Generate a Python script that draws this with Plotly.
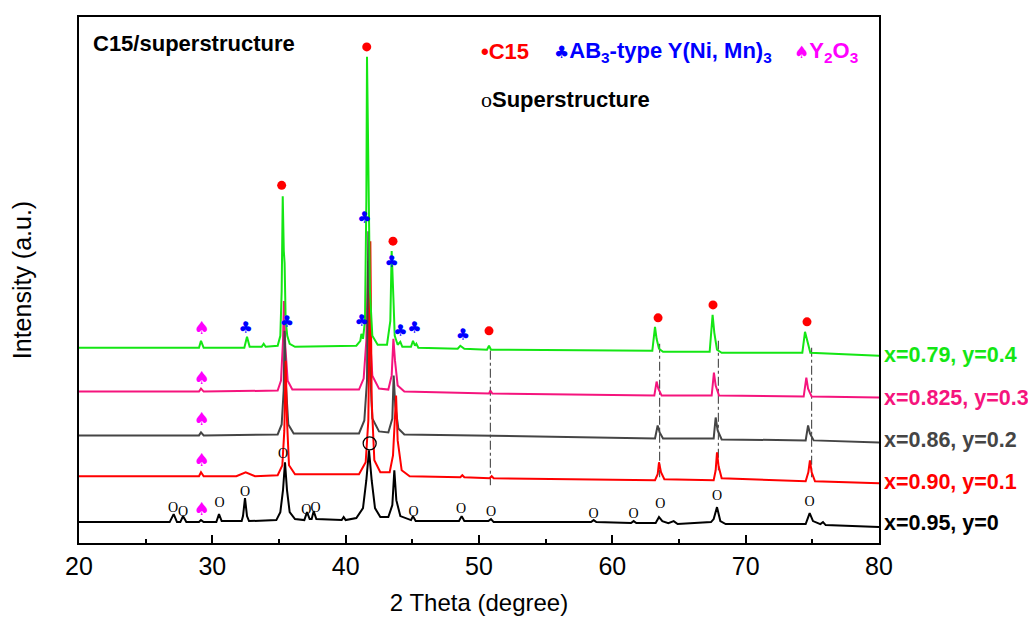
import plotly.graph_objects as go

# ---- data (2theta, intensity a.u.) ----
black_pts = [(20,21),(26.8,21),(27.1,29),(27.35,21),(27.6,21),(27.8,27),(28.05,21),(29.0,21),(29.15,23),(29.35,21),
             (30.3,21),(30.5,29),(30.7,22),(32.2,22),(32.3,27),(32.45,45),(32.6,27),(32.75,22),(34.8,23),(35.1,31),
             (35.3,53),(35.45,81),(35.6,53),(35.8,31),(36.2,24),(36.9,23),(37.1,31),(37.3,24),(37.45,24),(37.6,32),
             (37.8,24),(39.7,23),(39.85,26),(40.0,23),(40.8,25),(41.3,35),(41.55,63),(41.75,93),(41.95,63),(42.2,35),
             (42.6,26),(43.2,26),(43.5,38),(43.65,73),(43.8,43),(44.1,27),(44.9,23),(45.05,27),(45.25,22),(48.5,22),
             (48.7,27),(48.9,22),(50.7,22),(50.9,24),(51.1,21),(58.4,21),(58.6,23),(58.8,21),(61.4,20),(61.6,22),
             (61.8,20),(63.25,20),(63.5,26),(63.75,22),(64.2,20),(64.6,22),(64.9,19),(67.4,21),(67.6,24),(67.85,36),
             (68.1,22),(68.5,19),(74.5,19),(74.8,30),(75.05,22),(75.6,19),(75.8,21),(76.0,18),(80,16)]
red_pts = [(20,67),(29.0,67),(29.15,71),(29.35,67),(31.8,67),(32.5,71),(33.2,67),(34.9,68),(35.25,78),(35.4,113),
           (35.5,183),(35.6,123),(35.75,78),(36.2,69),(41.0,69),(41.5,81),(41.7,123),(41.85,303),(41.95,143),(42.15,83),
           (42.6,71),(43.3,71),(43.55,88),(43.7,123),(43.78,148),(43.9,103),(44.2,73),(44.8,67),(48.6,66),(48.75,68),
           (48.9,66),(50.8,65),(50.95,67),(51.1,65),(63.2,63),(63.4,69),(63.5,81),(63.65,71),(63.9,64),(67.6,63),
           (67.75,73),(67.85,91),(67.97,77),(68.2,65),(74.5,62),(74.7,71),(74.82,83),(74.95,71),(75.2,62),(80,60)]
gray_pts = [(20,108),(29.0,108),(29.15,111),(29.35,108),(34.9,109),(35.2,119),(35.35,153),(35.42,213),(35.52,158),
            (35.7,119),(36.1,110),(41.0,110),(41.4,123),(41.6,163),(41.7,313),(41.8,183),(42.0,125),(42.5,112),
            (43.2,111),(43.5,125),(43.6,168),(43.72,138),(43.95,115),(44.4,109),(63.2,105),(63.4,118),(63.55,111),
            (63.8,105),(67.6,105),(67.75,126),(67.9,113),(68.2,104),(74.5,103),(74.68,118),(74.82,110),(75.1,103),(80,101)]
pink_pts = [(20,152),(29.0,152),(29.15,155),(29.35,152),(34.9,153),(35.15,163),(35.3,203),(35.37,243),(35.47,198),
            (35.65,163),(36.0,154),(41.0,154),(41.35,165),(41.55,203),(41.68,283),(41.8,213),(42.0,168),(42.5,155),
            (43.2,154),(43.45,168),(43.58,205),(43.7,183),(43.9,158),(44.4,152),(50.75,150),(50.85,153),(51.0,150),
            (63.15,148),(63.32,162),(63.45,155),(63.7,148),(67.45,148),(67.62,171),(67.75,158),(68.0,148),
            (74.35,147),(74.55,166),(74.68,155),(74.95,147),(80,146)]
green_pts = [(20,196),(29.0,196),(29.15,203),(29.35,196),(32.4,196),(32.6,207),(32.8,197),(33.7,197),(33.85,200),
             (34.0,197),(34.9,198),(35.1,208),(35.2,253),(35.28,348),(35.36,293),(35.42,281),(35.5,223),(35.62,208),
             (35.8,200),(36.2,197),(40.8,198),(41.1,203),(41.18,210),(41.3,205),(41.45,223),(41.55,343),(41.6,488),
             (41.68,373),(41.74,360),(41.82,253),(42.0,208),(42.4,199),(43.1,199),(43.35,223),(43.45,293),(43.53,248),
             (43.58,246),(43.68,208),(43.9,199),(44.1,202),(44.25,197),(44.9,197),(45.05,203),(45.2,198),(45.3,200),
             (45.45,196),(48.4,195),(48.6,198),(48.9,195),(50.6,194),(50.75,198),(50.9,194),(63.0,193),(63.2,217),
             (63.32,205),(63.5,195),(63.8,192),(67.3,192),(67.52,229),(67.65,211),(67.85,194),(68.2,191),(74.25,191),
             (74.45,212),(74.6,203),(74.85,191),(80,188)]

series_names = ["x=0.95, y=0", "x=0.90, y=0.1", "x=0.86, y=0.2", "x=0.825, y=0.3", "x=0.79, y=0.4"]
series_label_y = [20, 61, 103, 146, 189]

# phase markers
c15_x = [35.2, 41.58, 43.55, 50.75, 63.43, 67.55, 74.6]
c15_y = [359, 498, 303, 213, 226, 239, 222]
ab3_x = [32.5, 35.6, 41.2, 41.4, 43.45, 44.1, 45.15, 48.8]
ab3_y = [215, 221, 222, 325, 281, 212, 215, 208]
y2o3_x = [29.2, 29.2, 29.2, 29.2, 29.2]
y2o3_y = [214, 164, 123, 82, 33]
sup_x = [27.05, 27.8, 30.55, 32.45, 35.3, 37.05, 37.75, 45.1, 48.65, 50.9, 58.6, 61.6, 63.6, 67.85, 74.8]
sup_y = [35, 31, 40, 51, 89, 33, 35, 31, 34, 31, 29, 29, 39, 47, 41]
sup_circle_x = [41.8]
sup_circle_y = [100]

# dash-dot guide lines
guide_x = [50.85, 63.55, 67.95, 74.95]
guide_top = [193, 200, 203, 196]
guide_bottom = [58, 66, 73, 66]

# ---- styles ----
GREEN = "#14E614"
PINK = "#F5147D"
GRAY = "#454545"
RED = "#FF0000"
BLACK = "#000000"
SANS = "Liberation Sans, Arial, sans-serif"
SYM = "<span style='font-family:DejaVu Sans;font-weight:normal;font-size:17px'>{}</span>"

fig = go.Figure()

# guide lines
gx, gy = [], []
for x, t, b in zip(guide_x, guide_top, guide_bottom):
    gx += [x, x, None]
    gy += [t, b, None]
fig.add_trace(go.Scatter(x=gx, y=gy, mode="lines",
                         line=dict(color="#333333", width=1, dash="dashdot"), hoverinfo="skip"))

curves = [(pink_pts, PINK), (gray_pts, GRAY), (red_pts, RED), (black_pts, BLACK), (green_pts, GREEN)]
for pts, col in curves:
    fig.add_trace(go.Scatter(x=[p[0] for p in pts], y=[p[1] for p in pts], mode="lines",
                             line=dict(color=col, width=2)))

fig.add_trace(go.Scatter(x=c15_x, y=c15_y, mode="markers",
                         marker=dict(color=RED, size=9, symbol="circle")))
fig.add_trace(go.Scatter(x=ab3_x, y=ab3_y, mode="text", text=["♣"] * len(ab3_x),
                         textfont=dict(color="#0000FF", size=16, family="DejaVu Sans")))
fig.add_trace(go.Scatter(x=y2o3_x, y=y2o3_y, mode="text", text=["♠"] * len(y2o3_x),
                         textfont=dict(color="#FF00FF", size=18, family="DejaVu Sans")))
fig.add_trace(go.Scatter(x=sup_x, y=sup_y, mode="text", text=["O"] * len(sup_x),
                         textfont=dict(color=BLACK, size=14, family="Liberation Serif, Times New Roman, serif")))
fig.add_trace(go.Scatter(x=sup_circle_x, y=sup_circle_y, mode="markers",
                         marker=dict(symbol="circle-open", size=13, color=BLACK, line=dict(width=1.3))))

ann = []
ann.append(dict(x=20.9, y=501, xref="x", yref="y", text="<b>C15/superstructure</b>", showarrow=False,
                xanchor="left", yanchor="middle", font=dict(family=SANS, size=22, color=BLACK)))
ann.append(dict(x=50.0, y=493, xref="x", yref="y", text="<b>•C15</b>", showarrow=False,
                xanchor="left", yanchor="middle", font=dict(family=SANS, size=22, color=RED)))
ann.append(dict(x=55.45, y=493, xref="x", yref="y",
                text=SYM.format("♣") + "<b>AB<sub>3</sub>-type Y(Ni, Mn)<sub>3</sub></b>",
                showarrow=False, xanchor="left", yanchor="middle", font=dict(family=SANS, size=22, color="#0000FF")))
ann.append(dict(x=73.45, y=493, xref="x", yref="y",
                text=SYM.format("♠") + "<b>Y<sub>2</sub>O<sub>3</sub></b>", showarrow=False,
                xanchor="left", yanchor="middle", font=dict(family=SANS, size=22, color="#FF00FF")))
ann.append(dict(x=50.0, y=445, xref="x", yref="y",
                text="<span style='font-family:Liberation Serif'>ο</span><b>Superstructure</b>", showarrow=False,
                xanchor="left", yanchor="middle", font=dict(family=SANS, size=22, color=BLACK)))
label_cols = [BLACK, RED, GRAY, PINK, GREEN]
for name, yy, col in zip(series_names, series_label_y, label_cols):
    ann.append(dict(x=1.004, y=yy, xref="paper", yref="y", text=f"<b>{name}</b>", showarrow=False,
                    xanchor="left", yanchor="middle", font=dict(family=SANS, size=21.5, color=col)))

fig.update_layout(
    width=1036, height=619,
    margin=dict(l=71, r=165, t=7, b=84),
    plot_bgcolor="white", paper_bgcolor="white",
    showlegend=False,
    annotations=ann,
    xaxis=dict(range=[20, 80], dtick=10, tick0=20, ticks="inside", ticklen=8, tickwidth=1.5, tickcolor=BLACK,
               showline=True, linecolor=BLACK, linewidth=1.5, mirror=True, showgrid=False, zeroline=False,
               minor=dict(dtick=5, ticks="inside", ticklen=4, tickwidth=1.5, tickcolor=BLACK, showgrid=False),
               tickfont=dict(family=SANS, size=25, color=BLACK), ticklabelstandoff=0,
               title=dict(text="2 Theta (degree)", font=dict(family=SANS, size=24, color=BLACK), standoff=15)),
    yaxis=dict(range=[0, 528], showticklabels=False, ticks="", showline=True, linecolor=BLACK, linewidth=1.5,
               mirror=True, showgrid=False, zeroline=False,
               title=dict(text="Intensity (a.u.)", font=dict(family=SANS, size=25, color=BLACK), standoff=40)),
)

fig.write_html("out.html")
